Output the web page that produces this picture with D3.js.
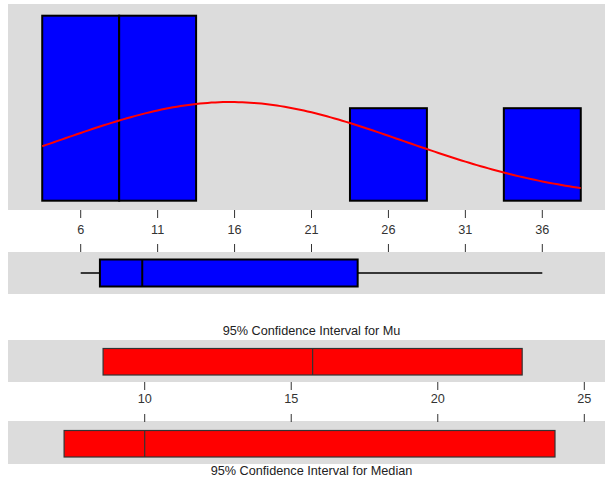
<!DOCTYPE html>
<html>
<head>
<meta charset="utf-8">
<script src="https://cdn.jsdelivr.net/npm/d3@7"></script>
<style>
  html, body { margin: 0; padding: 0; background: #fff; }
  svg { display: block; font-family: "Liberation Sans", Arial, sans-serif; }
</style>
</head>
<body>
<svg id="chart" width="605" height="483"></svg>
<script>
// Histogram bins (edges) and counts
const binEdges = [3.5, 8.5, 13.5, 18.5, 23.5, 28.5, 33.5, 38.5];
const binCounts = [4, 4, 0, 0, 2, 0, 2];
const sampleSize = 12;

// Fitted normal curve parameters
const fitMean = 15.73;
const fitSd = 11.22;

// Box plot summary: min, Q1, median, Q3, max
const boxStats = [6, 7.25, 10, 24, 36];

// Confidence intervals: [lower, centre, upper]
const ciMu = [8.58, 15.73, 22.88];
const ciMedian = [7.25, 10, 24];

// Axis tick values
const dataTicks = [6, 11, 16, 21, 26, 31, 36];
const ciTicks = [10, 15, 20, 25];

const titles = ["95% Confidence Interval for Mu", "95% Confidence Interval for Median"];

const svg = d3.select("#chart");
const panelFill = "#dcdcdc";
const panelX0 = 8, panelX1 = 610;
const fontSize = 12.7;

// Scales
const x = d3.scaleLinear().domain([6, 36]).range([80.7, 542.3]);
const y = d3.scaleLinear().domain([0, 4]).range([200.7, 15.7]);
const xc = d3.scaleLinear().domain([10, 25]).range([144.7, 584.3]);

function panel(y0, y1) {
  svg.append("rect").attr("x", panelX0).attr("y", y0)
    .attr("width", panelX1 - panelX0).attr("height", y1 - y0)
    .attr("fill", panelFill);
}

// Panels
panel(4, 210);
panel(252, 294);
panel(340, 382);
panel(421, 464);

// Histogram
const bins = binCounts.map((c, i) => ({ x0: binEdges[i], x1: binEdges[i + 1], count: c }));
svg.append("g").selectAll("rect").data(bins).join("rect")
  .attr("x", d => x(d.x0))
  .attr("y", d => y(d.count))
  .attr("width", d => x(d.x1) - x(d.x0))
  .attr("height", d => y(0) - y(d.count))
  .attr("fill", "#0000ff")
  .attr("stroke", "#000")
  .attr("stroke-width", 2);

// Normal curve scaled to counts
const binWidth = binEdges[1] - binEdges[0];
const curvePts = d3.range(binEdges[0], binEdges[binEdges.length - 1] + 0.001, 0.25).map(v => {
  const z = (v - fitMean) / fitSd;
  const dens = Math.exp(-0.5 * z * z) / (fitSd * Math.sqrt(2 * Math.PI));
  return [v, dens * sampleSize * binWidth];
});
svg.append("path")
  .datum(curvePts)
  .attr("d", d3.line().x(d => x(d[0])).y(d => y(d[1])))
  .attr("fill", "none")
  .attr("stroke", "#ff0000")
  .attr("stroke-width", 2);

// Axis with ticks above and below the labels
function tickAxis(scale, ticks, yTop, yLabel, yBottom) {
  const g = svg.append("g");
  g.selectAll("line.up").data(ticks).join("line")
    .attr("x1", d => scale(d)).attr("x2", d => scale(d))
    .attr("y1", yTop).attr("y2", yTop + 8)
    .attr("stroke", "#333").attr("stroke-width", 1);
  g.selectAll("line.down").data(ticks).join("line")
    .attr("x1", d => scale(d)).attr("x2", d => scale(d))
    .attr("y1", yBottom - 8).attr("y2", yBottom)
    .attr("stroke", "#333").attr("stroke-width", 1);
  g.selectAll("text").data(ticks).join("text")
    .attr("x", d => scale(d)).attr("y", yLabel)
    .attr("text-anchor", "middle").attr("dominant-baseline", "central")
    .attr("font-size", fontSize).attr("fill", "#333")
    .text(d => d);
}
tickAxis(x, dataTicks, 210, 230, 252);
tickAxis(xc, ciTicks, 382, 399, 422);

// Box plot
const [bMin, bQ1, bMed, bQ3, bMax] = boxStats;
const boxG = svg.append("g");
boxG.append("line").attr("x1", x(bMin)).attr("x2", x(bQ1))
  .attr("y1", 273).attr("y2", 273).attr("stroke", "#000").attr("stroke-width", 1.5);
boxG.append("line").attr("x1", x(bQ3)).attr("x2", x(bMax))
  .attr("y1", 273).attr("y2", 273).attr("stroke", "#000").attr("stroke-width", 1.5);
boxG.append("rect").attr("x", x(bQ1)).attr("y", 259.5)
  .attr("width", x(bQ3) - x(bQ1)).attr("height", 27)
  .attr("fill", "#0000ff").attr("stroke", "#000").attr("stroke-width", 2);
boxG.append("line").attr("x1", x(bMed)).attr("x2", x(bMed))
  .attr("y1", 259.5).attr("y2", 286.5).attr("stroke", "#000").attr("stroke-width", 2);

// Confidence interval bars
function ciBar(ci, y0, h) {
  const g = svg.append("g");
  g.append("rect").attr("x", xc(ci[0])).attr("y", y0)
    .attr("width", xc(ci[2]) - xc(ci[0])).attr("height", h)
    .attr("fill", "#ff0000").attr("stroke", "#333").attr("stroke-width", 1.2);
  g.append("line").attr("x1", xc(ci[1])).attr("x2", xc(ci[1]))
    .attr("y1", y0).attr("y2", y0 + h).attr("stroke", "#333").attr("stroke-width", 1.2);
}
ciBar(ciMu, 348.5, 26.5);
ciBar(ciMedian, 430.5, 26.5);

// Titles
svg.append("text").attr("x", 311.5).attr("y", 331)
  .attr("text-anchor", "middle").attr("dominant-baseline", "central")
  .attr("font-size", fontSize).attr("fill", "#222").text(titles[0]);
svg.append("text").attr("x", 311.5).attr("y", 471)
  .attr("text-anchor", "middle").attr("dominant-baseline", "central")
  .attr("font-size", fontSize).attr("fill", "#222").text(titles[1]);
</script>
</body>
</html>
